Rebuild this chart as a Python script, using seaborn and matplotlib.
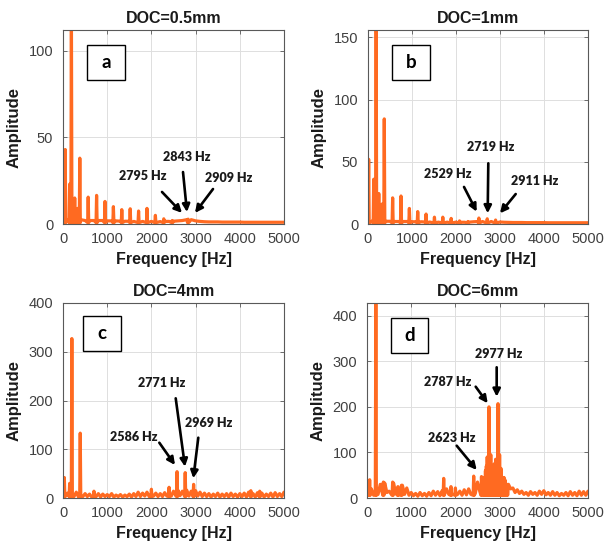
import numpy as np
import pandas as pd
import matplotlib
matplotlib.use("Agg")
import matplotlib.pyplot as plt
from matplotlib.patches import Rectangle
import seaborn as sns

# ---------------- data ----------------
titles = ["DOC=0.5mm", "DOC=1mm", "DOC=4mm", "DOC=6mm"]
panel_letters = ["a", "b", "c", "d"]
y_limits = [112, 156, 400, 428]
y_ticks = [[0, 50, 100], [0, 50, 100, 150], [0, 100, 200, 300, 400], [0, 100, 200, 300, 400]]
x_ticks = [0, 1000, 2000, 3000, 4000, 5000]

# noise floor (a, b sampled every 100 Hz; c, d every 50 Hz)
a_floor = [3, 2.5, 2.5, 2.5, 2.5, 2, 2, 2, 2, 2,
           1.8, 1.8, 1.8, 1.6, 1.6, 1.6, 1.5, 1.5, 1.5, 1.5,
           1.5, 1.4, 1.4, 1.5, 1.5, 1.6, 1.8, 2, 2.5, 2.5,
           1.8, 1.5, 1.3, 1.2, 1.2, 1.2, 1.1, 1.1, 1.1, 1.1,
           1.1, 1, 1, 1, 1, 1, 1, 1, 1, 1, 1]
b_floor = [3, 2.5, 2.5, 2.5, 2.2, 2.2, 2, 2, 2, 2,
           1.8, 1.8, 1.8, 1.6, 1.6, 1.6, 1.5, 1.5, 1.5, 1.5,
           1.5, 1.4, 1.4, 1.5, 1.8, 2, 2, 2, 2, 2,
           1.6, 1.4, 1.3, 1.2, 1.2, 1.2, 1.1, 1.1, 1.1, 1.1,
           1.1, 1, 1, 1, 1, 1, 1, 1, 1, 1, 1]
c_floor = [12, 3, 10, 4, 9, 3, 12, 2, 10, 3,
           9, 3, 8, 2, 12, 3, 9, 2, 8, 3,
           7, 3, 9, 2, 6, 3, 7, 2, 6, 3,
           8, 2, 9, 3, 12, 3, 10, 4, 12, 3,
           14, 4, 10, 3, 9, 3, 11, 4, 12, 4,
           14, 5, 16, 5, 14, 5, 16, 4, 14, 5,
           15, 4, 12, 3, 10, 3, 9, 2, 8, 3,
           10, 2, 8, 3, 9, 2, 10, 3, 8, 2,
           9, 3, 10, 2, 12, 3, 9, 2, 11, 3,
           10, 2, 8, 3, 10, 2, 11, 3, 9, 3,
           12]
d_floor = [15, 5, 20, 6, 18, 8, 30, 10, 33, 12,
           15, 8, 33, 10, 20, 8, 28, 8, 22, 6,
           12, 5, 10, 4, 12, 5, 10, 4, 12, 5,
           15, 6, 14, 5, 16, 6, 20, 8, 25, 8,
           20, 8, 15, 6, 18, 7, 20, 8, 30, 10,
           35, 15, 40, 30, 70, 50, 60, 45, 55, 65,
           50, 40, 45, 30, 30, 20, 22, 12, 18, 10,
           15, 8, 12, 6, 14, 8, 12, 6, 15, 8,
           16, 7, 12, 6, 14, 6, 12, 5, 10, 6,
           12, 5, 14, 6, 12, 5, 15, 6, 14, 6,
           15]

# spectral peaks
a_peak_f = [20, 50, 150, 190, 265, 330, 380, 570, 760, 950, 1140, 1330, 1520, 1710, 1900, 2090, 2280, 2470, 2830]
a_peak_a = [23, 43, 23, 125, 15, 9, 38, 15.5, 16.5, 13, 10, 8.3, 8.8, 7.5, 9, 5, 3, 2, 2.8]
b_peak_f = [15, 130, 185, 245, 315, 370, 560, 750, 940, 1130, 1320, 1510, 1700, 1890, 2080, 2270, 2520, 2710, 2900]
b_peak_a = [52, 36, 165, 24.5, 16, 84.5, 21, 22.5, 12.5, 10, 8, 5.5, 5.5, 4.5, 2.5, 2, 4.8, 4.2, 3.2]
c_peak_f = [30, 150, 200, 390, 700, 2000, 2400, 2580, 2765, 2955, 4250, 4450]
c_peak_a = [42, 30, 327, 133, 14, 18, 22, 54, 52, 28, 15, 14]
d_peak_f = [20, 60, 200, 370, 580, 700, 780, 1735, 1900, 2000, 2414, 2590,
            2640, 2680, 2720, 2760, 2800, 2840, 2880, 2910, 2940, 2964, 3000, 3030, 3080, 3120, 3170]
d_peak_a = [38, 40, 450, 35, 35, 25, 28, 43, 25, 22, 48, 47,
            45, 60, 90, 200, 95, 70, 75, 85, 60, 207, 95, 65, 45, 40, 30]

# annotations: label, text pos, arrow tail, arrow head (data coords)
a_notes = [("2795 Hz", (1810, 27.7), (2240, 18.5), (2692, 6.4)),
           ("2843 Hz", (2805, 38.7), (2715, 30.0), (2805, 6.9)),
           ("2909 Hz", (3756, 26.6), (3394, 20.2), (2986, 6.4))]
b_notes = [("2529 Hz", (1811, 40.2), (2182, 29.8), (2470, 9.9)),
           ("2719 Hz", (2789, 62.2), (2734, 48.8), (2720, 8.6)),
           ("2911 Hz", (3780, 34.6), (3357, 24.1), (3000, 8.6))]
c_notes = [("2586 Hz", (1590, 125.7), (2179, 113.4), (2534, 67.7)),
           ("2771 Hz", (2233, 235.3), (2550, 204.5), (2760, 64.2)),
           ("2969 Hz", (3287, 153.2), (3061, 123.7), (2948, 40.4))]
d_notes = [("2623 Hz", (1916, 131.0), (2029, 114.8), (2482, 61.5)),
           ("2787 Hz", (1826, 254.0), (2459, 244.3), (2731, 207.9)),
           ("2977 Hz", (2971, 315.4), (2934, 286.9), (2934, 222.3))]

floors = [a_floor, b_floor, c_floor, d_floor]
peaks_f = [a_peak_f, b_peak_f, c_peak_f, d_peak_f]
peaks_a = [a_peak_a, b_peak_a, c_peak_a, d_peak_a]
notes = [a_notes, b_notes, c_notes, d_notes]
bases = [0.8, 0.8, 3, 6]


def build_spectrum(floor, pf, pa, base):
    ff = np.linspace(0, 5000, len(floor))
    rows = [(f, v) for f, v in zip(ff, floor) if all(abs(f - p) > 18 for p in pf)]
    for f, a in zip(pf, pa):
        rows.append((max(f - 12, 0.5), base))
        rows.append((f, a))
        rows.append((f + 12, base))
    df = pd.DataFrame(rows, columns=["Frequency", "Amplitude"]).sort_values("Frequency")
    return df.reset_index(drop=True)


# ---------------- style ----------------
sns.set_theme(style="whitegrid")
plt.rcParams["font.family"] = ["Liberation Sans", "DejaVu Sans"]
orange = "#FF6A21"
spine_c = "#595959"
tick_c = "#404040"

fig = plt.figure(figsize=(6.09, 5.52), dpi=100)
fig.patch.set_facecolor("white")

positions = [[63 / 609, 1 - 224 / 552, 221 / 609, 194 / 552],
             [368 / 609, 1 - 224 / 552, 220 / 609, 194 / 552],
             [63 / 609, 1 - 498 / 552, 221 / 609, 195 / 552],
             [367 / 609, 1 - 498 / 552, 221 / 609, 195 / 552]]
boxes = [(0.110, 0.742, 0.172, 0.180), (0.110, 0.742, 0.172, 0.180),
         (0.092, 0.755, 0.169, 0.178), (0.109, 0.745, 0.169, 0.180)]

for i in range(4):
    ax = fig.add_axes(positions[i])
    df = build_spectrum(floors[i], peaks_f[i], peaks_a[i], bases[i])
    sns.lineplot(data=df, x="Frequency", y="Amplitude", ax=ax, color=orange,
                 linewidth=2.3, estimator=None, sort=False)
    ax.set_xlim(0, 5000)
    ax.set_ylim(0, y_limits[i])
    ax.set_xticks(x_ticks)
    ax.set_yticks(y_ticks[i])
    ax.set_facecolor("white")
    ax.grid(True, color="#dedede", linewidth=0.7)
    for s in ax.spines.values():
        s.set_visible(True)
        s.set_color(spine_c)
        s.set_linewidth(0.8)
    ax.tick_params(axis="both", direction="in", length=3, width=0.6, color=spine_c,
                   labelsize=10.5, labelcolor=tick_c, top=True, right=True,
                   bottom=True, left=True)
    ax.tick_params(axis="x", pad=6)
    ax.tick_params(axis="y", pad=7)
    ax.set_title(titles[i], fontsize=11.5, fontweight="bold", color="#1a1a1a", pad=5)
    ax.set_xlabel("Frequency [Hz]", fontsize=11.5, fontweight="bold", color="#1a1a1a", labelpad=4)
    ax.set_ylabel("Amplitude", fontsize=12, fontweight="bold", color="#1a1a1a", labelpad=5)

    # panel letter box
    bx, by, bw, bh = boxes[i]
    ax.add_patch(Rectangle((bx, by), bw, bh, transform=ax.transAxes, facecolor="white",
                           edgecolor="black", linewidth=1.0, zorder=5))
    ax.text(bx + bw / 2, by + bh / 2, panel_letters[i], transform=ax.transAxes,
            ha="center", va="center", fontsize=13.5, fontweight="bold",
            family=["Lato", "DejaVu Sans"], color="black", zorder=6)

    for label, tpos, tail, head in notes[i]:
        ax.annotate("", xy=head, xytext=tail,
                    arrowprops=dict(arrowstyle="-|>", color="black", lw=1.9,
                                    mutation_scale=11, shrinkA=0, shrinkB=0),
                    zorder=7)
        ax.text(tpos[0], tpos[1], label, ha="center", va="center", fontsize=9,
                fontweight="heavy", family=["Lato", "DejaVu Sans"], color="#1a1a1a", zorder=7)

fig.savefig("out.png", dpi=100, facecolor="white")
